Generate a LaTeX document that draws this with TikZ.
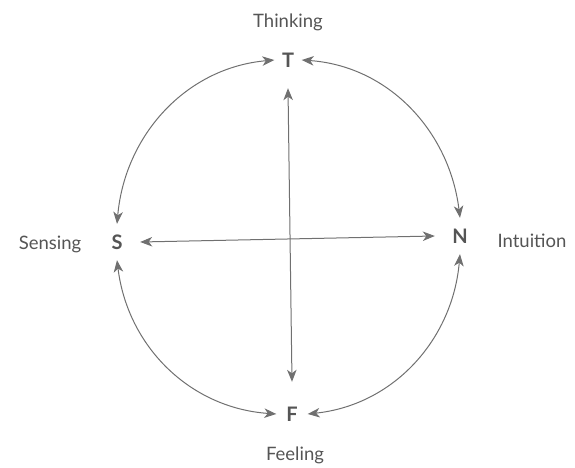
\documentclass[tikz,border=0pt]{standalone}
\usepackage{fontspec}
\setmainfont{Lato}
\usetikzlibrary{arrows.meta}
\definecolor{inkgray}{HTML}{555555}
\definecolor{linegray}{HTML}{707070}
\begin{document}
\begin{tikzpicture}[x=1pt,y=1pt,
  letter/.style={inner sep=0pt, font=\fontsize{20}{21}\selectfont\bfseries, text=inkgray},
  lbl/.style={inner sep=0pt, font=\fontsize{18.5}{20}\selectfont, text=inkgray},
  conn/.style={draw=linegray, line width=1pt, {Stealth[length=12pt,width=9.5pt,inset=3.5pt]}-{Stealth[length=12pt,width=9.5pt,inset=3.5pt]}}
]
\useasboundingbox (0,0) rectangle (575,468);
\node[letter, minimum width=27pt, minimum height=56pt] (T) at (288,408) {T};
\node[letter, minimum width=46pt, minimum height=36pt] (S) at (117,226) {S};
\node[letter, minimum width=50pt, minimum height=36pt] (N) at (460,232) {N};
\node[letter, minimum width=31pt, minimum height=64pt] (F) at (292,54) {F};
\node[lbl] (lT) at (288,446) {Thinking};
\node[lbl] (lS) at (50,224) {Sensing};
\node[lbl] (lN) at (532,227) {Intuition};
\node[lbl] (lF) at (295,13) {Feeling};
\draw[conn] (T.west) to[out=185,in=85] (S.north);
\draw[conn] (T.east) to[out=-4,in=97] (N.north);
\draw[conn] (S.south) to[out=-83,in=176] (F.west);
\draw[conn] (N.south) to[out=-95,in=6] (F.east);
\draw[conn] (T.south) -- (F.north);
\draw[conn] (S.east) -- (N.west);
\end{tikzpicture}
\end{document}
